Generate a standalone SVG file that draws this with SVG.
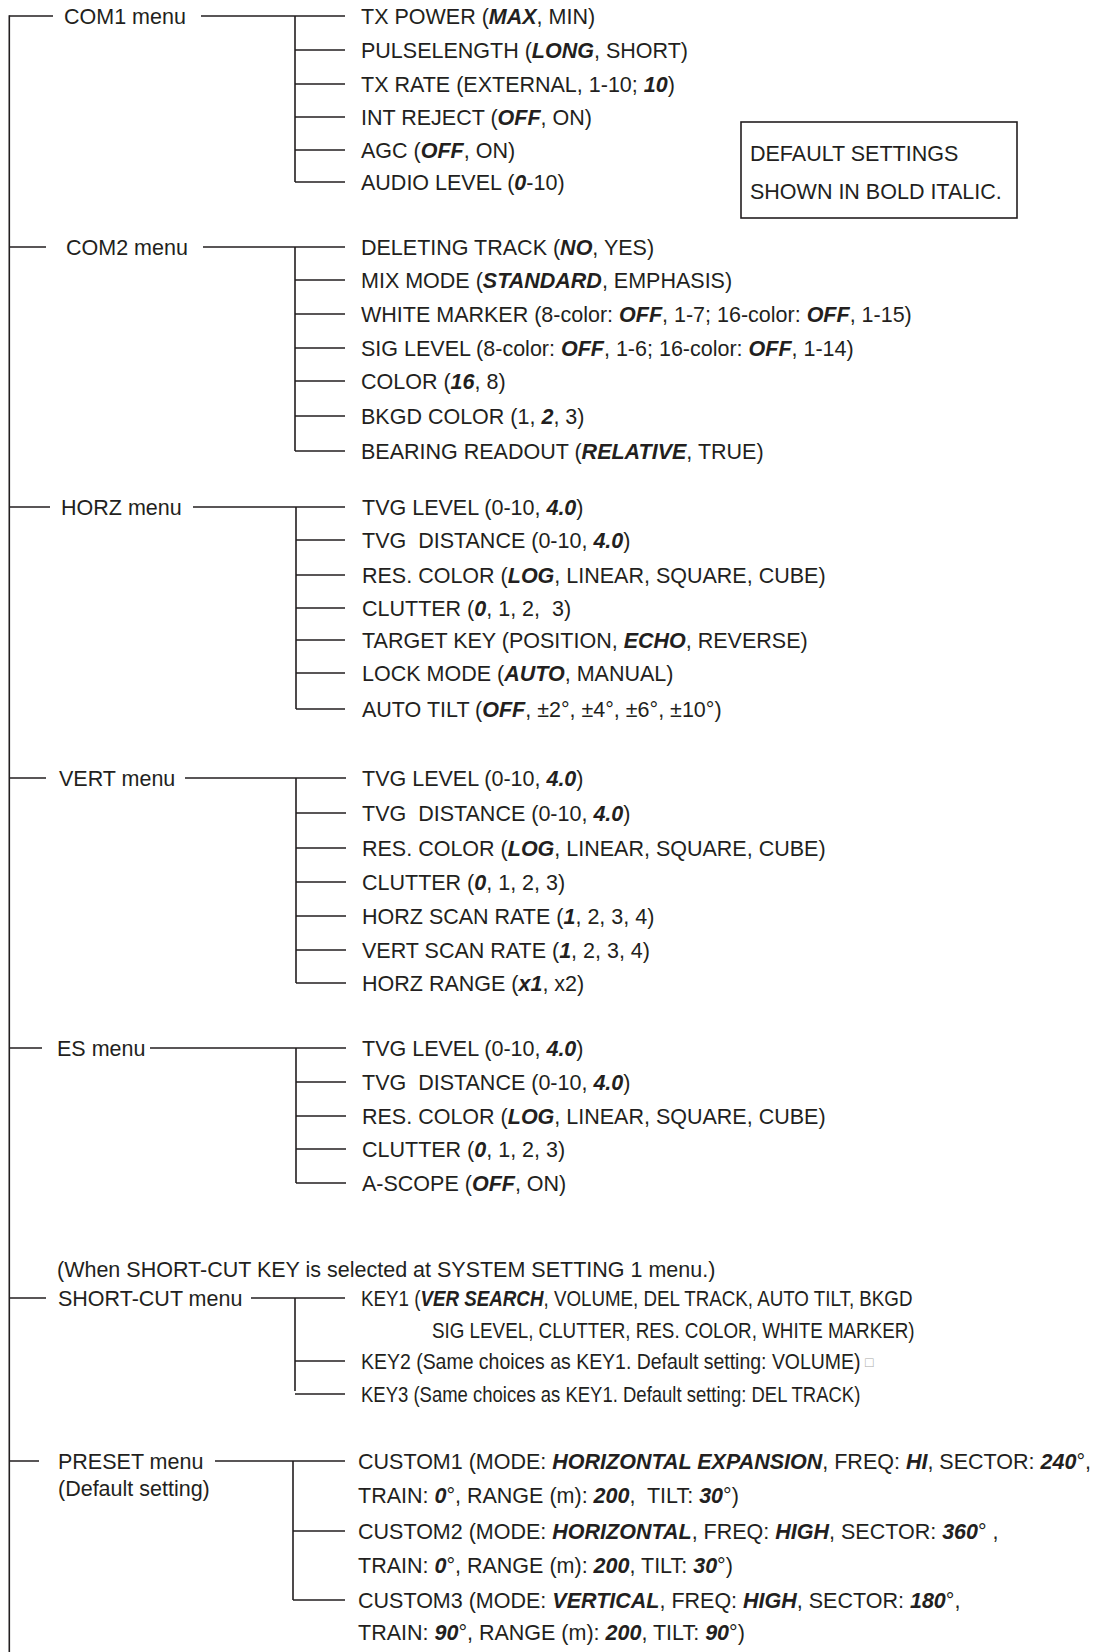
<svg xmlns="http://www.w3.org/2000/svg" width="1097" height="1652" viewBox="0 0 1097 1652">
<style>
.t{font-family:"Liberation Sans",Arial,Helvetica,sans-serif;font-size:21.5px;fill:#231f20}
.b{font-weight:bold;font-style:italic}
.c{stroke:#231f20;stroke-width:1.6;fill:none}
.g{fill:#aaaaaa;font-size:14px}
</style>
<rect width="1097" height="1652" fill="#ffffff"/>
<g id="connectors" class="c">
<path d="M9.3,15.2V1652"/>
<path d="M9.3,16H53M201,16H345M295,16V182M295,50H345M295,84H345M295,117H345M295,150H345M295,182H345"/>
<path d="M9.3,247H46M203,247H345M295,247V451M295,280H345M295,314H345M295,348H345M295,381H345M295,416H345M295,451H345"/>
<path d="M9.3,507H50M193,507H345M296,507V709M296,540H345M296,575H345M296,608H345M296,640H345M296,673H345M296,709H345"/>
<path d="M9.3,778H46M185,778H346M296,778V983M296,813H346M296,848H346M296,882H346M296,916H346M296,950H346M296,983H346"/>
<path d="M9.3,1048H42M150,1048H346M296,1048V1183M296,1082H346M296,1116H346M296,1149H346M296,1183H346"/>
<path d="M9.3,1298H46M251,1298H345M295,1298V1391M295,1361H345M295,1394H345"/>
<path d="M9.3,1461H39M215,1461H345M293,1461V1600M293,1531H345M293,1600H345"/>
</g>
<g id="note">
<rect x="741" y="122" width="276" height="96" class="c"/>
<text class="t" x="750" y="161">DEFAULT SETTINGS</text>
<text class="t" x="750" y="199">SHOWN IN BOLD ITALIC.</text>
</g>
<g id="com1">
<text class="t" x="64" y="23.5">COM1 menu</text>
<text class="t" x="361" y="23.5">TX POWER (<tspan class="b">MAX</tspan>, MIN)</text>
<text class="t" x="361" y="57.5">PULSELENGTH (<tspan class="b">LONG</tspan>, SHORT)</text>
<text class="t" x="361" y="91.5">TX RATE (EXTERNAL, 1-10; <tspan class="b">10</tspan>)</text>
<text class="t" x="361" y="124.5">INT REJECT (<tspan class="b">OFF</tspan>, ON)</text>
<text class="t" x="361" y="157.5">AGC (<tspan class="b">OFF</tspan>, ON)</text>
<text class="t" x="361" y="189.5">AUDIO LEVEL (<tspan class="b">0</tspan>-10)</text>
</g>
<g id="com2">
<text class="t" x="66" y="254.5">COM2 menu</text>
<text class="t" x="361" y="254.5">DELETING TRACK (<tspan class="b">NO</tspan>, YES)</text>
<text class="t" x="361" y="287.5">MIX MODE (<tspan class="b">STANDARD</tspan>, EMPHASIS)</text>
<text class="t" x="361" y="321.5">WHITE MARKER (8-color: <tspan class="b">OFF</tspan>, 1-7; 16-color: <tspan class="b">OFF</tspan>, 1-15)</text>
<text class="t" x="361" y="355.5">SIG LEVEL (8-color: <tspan class="b">OFF</tspan>, 1-6; 16-color: <tspan class="b">OFF</tspan>, 1-14)</text>
<text class="t" x="361" y="388.5">COLOR (<tspan class="b">16</tspan>, 8)</text>
<text class="t" x="361" y="423.5">BKGD COLOR (1, <tspan class="b">2</tspan>, 3)</text>
<text class="t" x="361" y="458.5">BEARING READOUT (<tspan class="b">RELATIVE</tspan>, TRUE)</text>
</g>
<g id="horz">
<text class="t" x="61" y="514.5">HORZ menu</text>
<text class="t" x="362" y="514.5">TVG LEVEL (0-10, <tspan class="b">4.0</tspan>)</text>
<text class="t" x="362" y="547.5" xml:space="preserve">TVG  DISTANCE (0-10, <tspan class="b">4.0</tspan>)</text>
<text class="t" x="362" y="582.5">RES. COLOR (<tspan class="b">LOG</tspan>, LINEAR, SQUARE, CUBE)</text>
<text class="t" x="362" y="615.5" xml:space="preserve">CLUTTER (<tspan class="b">0</tspan>, 1, 2,  3)</text>
<text class="t" x="362" y="647.5">TARGET KEY (POSITION, <tspan class="b">ECHO</tspan>, REVERSE)</text>
<text class="t" x="362" y="680.5">LOCK MODE (<tspan class="b">AUTO</tspan>, MANUAL)</text>
<text class="t" x="362" y="716.5">AUTO TILT (<tspan class="b">OFF</tspan>, ±2°, ±4°, ±6°, ±10°)</text>
</g>
<g id="vert">
<text class="t" x="59" y="785.5">VERT menu</text>
<text class="t" x="362" y="785.5">TVG LEVEL (0-10, <tspan class="b">4.0</tspan>)</text>
<text class="t" x="362" y="820.5" xml:space="preserve">TVG  DISTANCE (0-10, <tspan class="b">4.0</tspan>)</text>
<text class="t" x="362" y="855.5">RES. COLOR (<tspan class="b">LOG</tspan>, LINEAR, SQUARE, CUBE)</text>
<text class="t" x="362" y="889.5">CLUTTER (<tspan class="b">0</tspan>, 1, 2, 3)</text>
<text class="t" x="362" y="923.5">HORZ SCAN RATE (<tspan class="b">1</tspan>, 2, 3, 4)</text>
<text class="t" x="362" y="957.5">VERT SCAN RATE (<tspan class="b">1</tspan>, 2, 3, 4)</text>
<text class="t" x="362" y="990.5">HORZ RANGE (<tspan class="b">x1</tspan>, x2)</text>
</g>
<g id="es">
<text class="t" x="57" y="1055.5">ES menu</text>
<text class="t" x="362" y="1055.5">TVG LEVEL (0-10, <tspan class="b">4.0</tspan>)</text>
<text class="t" x="362" y="1089.5" xml:space="preserve">TVG  DISTANCE (0-10, <tspan class="b">4.0</tspan>)</text>
<text class="t" x="362" y="1123.5">RES. COLOR (<tspan class="b">LOG</tspan>, LINEAR, SQUARE, CUBE)</text>
<text class="t" x="362" y="1156.5">CLUTTER (<tspan class="b">0</tspan>, 1, 2, 3)</text>
<text class="t" x="362" y="1190.5">A-SCOPE (<tspan class="b">OFF</tspan>, ON)</text>
</g>
<g id="shortcut">
<text class="t" x="57" y="1277">(When SHORT-CUT KEY is selected at SYSTEM SETTING 1 menu.)</text>
<text class="t" x="58" y="1305.5">SHORT-CUT menu</text>
<text class="t" transform="translate(361,1305.5) scale(0.873,1)">KEY1 (<tspan class="b">VER SEARCH</tspan>, VOLUME, DEL TRACK, AUTO TILT, BKGD</text>
<text class="t" transform="translate(432,1337.5) scale(0.875,1)">SIG LEVEL, CLUTTER, RES. COLOR, WHITE MARKER)</text>
<text class="t" transform="translate(361,1368.5) scale(0.905,1)">KEY2 (Same choices as KEY1. Default setting: VOLUME)</text>
<text class="t g" x="865" y="1367">□</text>
<text class="t" transform="translate(361,1401.5) scale(0.86,1)">KEY3 (Same choices as KEY1. Default setting: DEL TRACK)</text>
</g>
<g id="preset">
<text class="t" x="58" y="1468.5">PRESET menu</text>
<text class="t" x="58" y="1496">(Default setting)</text>
<text class="t" x="358" y="1468.5">CUSTOM1 (MODE: <tspan class="b">HORIZONTAL EXPANSION</tspan>, FREQ: <tspan class="b">HI</tspan>, SECTOR: <tspan class="b">240</tspan>°,</text>
<text class="t" x="358" y="1502.5" xml:space="preserve">TRAIN: <tspan class="b">0</tspan>°, RANGE (m): <tspan class="b">200</tspan>,  TILT: <tspan class="b">30</tspan>°)</text>
<text class="t" x="358" y="1538.5">CUSTOM2 (MODE: <tspan class="b">HORIZONTAL</tspan>, FREQ: <tspan class="b">HIGH</tspan>, SECTOR: <tspan class="b">360</tspan>° ,</text>
<text class="t" x="358" y="1572.5">TRAIN: <tspan class="b">0</tspan>°, RANGE (m): <tspan class="b">200</tspan>, TILT: <tspan class="b">30</tspan>°)</text>
<text class="t" x="358" y="1607.5">CUSTOM3 (MODE: <tspan class="b">VERTICAL</tspan>, FREQ: <tspan class="b">HIGH</tspan>, SECTOR: <tspan class="b">180</tspan>°,</text>
<text class="t" x="358" y="1639.5">TRAIN: <tspan class="b">90</tspan>°, RANGE (m): <tspan class="b">200</tspan>, TILT: <tspan class="b">90</tspan>°)</text>
</g>
</svg>
